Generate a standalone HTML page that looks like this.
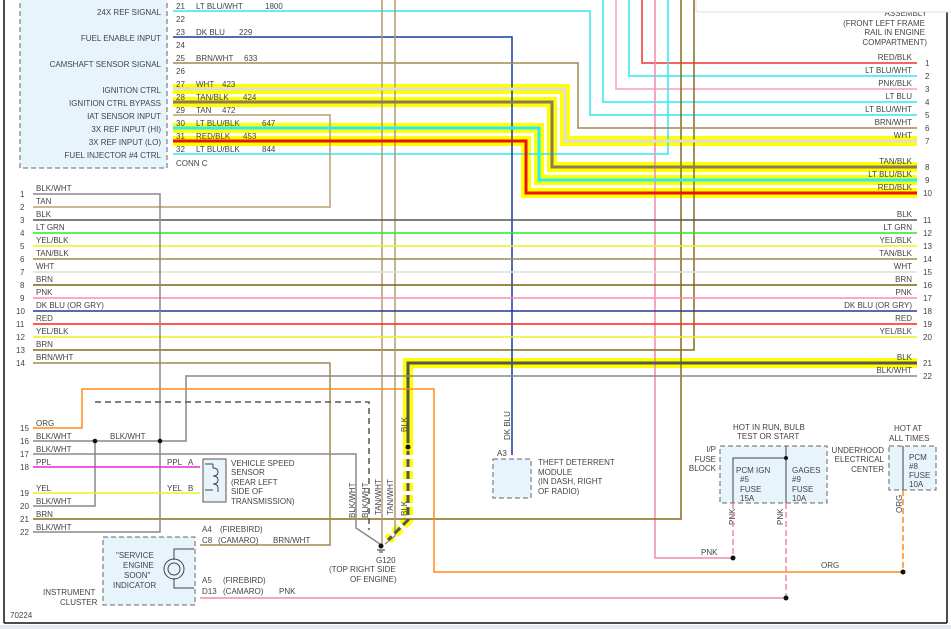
<!DOCTYPE html>
<html><head><meta charset="utf-8"><style>
html,body{margin:0;padding:0;background:#fff}
svg{display:block}
text{font-family:"Liberation Sans",sans-serif;font-size:8px;fill:#444}
.r{text-anchor:end}
</style></head><body>
<svg width="951" height="629" viewBox="0 0 951 629" xmlns="http://www.w3.org/2000/svg">
<rect width="951" height="629" fill="#fff"/>
<!-- frame -->
<line x1="4" y1="0" x2="4" y2="623" stroke="#111" stroke-width="1.5"/>
<line x1="947" y1="12" x2="947" y2="623" stroke="#111" stroke-width="1.5"/>
<line x1="4" y1="623" x2="947" y2="623" stroke="#111" stroke-width="1.5"/>
<rect x="0" y="625" width="951" height="4" fill="#e4e8ec"/>

<!-- PCM box -->
<rect x="20" y="-2" width="147" height="170" fill="#e8f4fc" stroke="#666" stroke-dasharray="5,3"/>
<g class="r">
<text x="161" y="15" class="r">24X REF SIGNAL</text>
<text x="161" y="41" class="r">FUEL ENABLE INPUT</text>
<text x="161" y="67" class="r">CAMSHAFT SENSOR SIGNAL</text>
<text x="161" y="93" class="r">IGNITION CTRL</text>
<text x="161" y="106" class="r">IGNITION CTRL BYPASS</text>
<text x="161" y="119" class="r">IAT SENSOR INPUT</text>
<text x="161" y="132" class="r">3X REF INPUT (HI)</text>
<text x="161" y="145" class="r">3X REF INPUT (LO)</text>
<text x="161" y="158" class="r">FUEL INJECTOR #4 CTRL</text>
</g>

<!-- highlighted yellows -->
<g fill="none" stroke="#ffff00" stroke-width="10" stroke-linejoin="miter">
<polyline points="173,89 565,89 565,141 917,141"/>
<polyline points="173,102 552,102 552,167 917,167"/>
<polyline points="173,128 539,128 539,180 917,180"/>
<polyline points="173,141 526,141 526,193 917,193"/>
<polyline points="917,363 408,363 408,447"/>
</g>
<polyline points="408,447 408,520 388,540" fill="none" stroke="#ffff00" stroke-width="10" stroke-dasharray="8,4"/>

<!-- verticals from top -->
<g fill="none" stroke-width="1.5">
<polyline points="173,11 590,11 590,115 917,115" stroke="#33e6f0"/>
<polyline points="603,0 603,102 917,102" stroke="#33e6f0"/>
<polyline points="616,0 616,89 917,89" stroke="#f5a0b4"/>
<polyline points="629,0 629,76 917,76" stroke="#33e6f0"/>
<polyline points="642,0 642,63 917,63" stroke="#ee3333"/>
<polyline points="173,154 668,154 668,0" stroke="#33e6f0"/>
<polyline points="655,0 655,558 733,558" stroke="#f08ca8"/>
<polyline points="681,0 681,519 33,519" stroke="#8b6a1e"/>
<polyline points="694,0 694,350 33,350" stroke="#8b6a1e"/>
<polyline points="173,37 512,37 512,455" stroke="#1a3a9a"/>
<polyline points="173,63 578,63 578,128 917,128" stroke="#a08850"/>
<polyline points="382,0 382,536 382,544" stroke="#b09a70"/>
<polyline points="395,0 395,536 385,544" stroke="#b09a70"/>
<polyline points="173,115 330,115 330,207 33,207" stroke="#b8a070"/>
</g>
<!-- highlighted inner colors -->
<g fill="none" stroke-width="3">
<polyline points="173,89 565,89 565,141 917,141" stroke="#dddddd"/>
<polyline points="173,102 552,102 552,167 917,167" stroke="#8a7a5a"/>
<polyline points="173,128 539,128 539,180 917,180" stroke="#22eeff"/>
<polyline points="173,141 526,141 526,193 917,193" stroke="#ee1111"/>
<polyline points="917,363 408,363 408,447" stroke="#555"/>
</g>
<polyline points="408,447 408,520 388,540" fill="none" stroke="#555" stroke-width="3" stroke-dasharray="8,4"/>
<circle cx="408" cy="447" r="4" fill="#ffff00"/><circle cx="408" cy="447" r="2.5" fill="#111"/>

<!-- pin labels (on top) -->
<g>
<text x="176" y="9">21</text><text x="176" y="22">22</text><text x="176" y="35">23</text><text x="176" y="48">24</text><text x="176" y="61">25</text><text x="176" y="74">26</text><text x="176" y="87">27</text><text x="176" y="100">28</text><text x="176" y="113">29</text><text x="176" y="126">30</text><text x="176" y="139">31</text><text x="176" y="152">32</text>
<text x="176" y="166">CONN C</text>
<text x="196" y="9">LT BLU/WHT</text><text x="265" y="9">1800</text>
<text x="196" y="35">DK BLU</text><text x="239" y="35">229</text>
<text x="196" y="61">BRN/WHT</text><text x="244" y="61">633</text>
<text x="196" y="87">WHT</text><text x="222" y="87">423</text>
<text x="196" y="100">TAN/BLK</text><text x="243" y="100">424</text>
<text x="196" y="113">TAN</text><text x="222" y="113">472</text>
<text x="196" y="126">LT BLU/BLK</text><text x="262" y="126">647</text>
<text x="196" y="139">RED/BLK</text><text x="243" y="139">453</text>
<text x="196" y="152">LT BLU/BLK</text><text x="262" y="152">844</text>
</g>

<!-- straight rows -->
<g stroke-width="1.5">
<line x1="33" y1="220" x2="917" y2="220" stroke="#555"/>
<line x1="33" y1="233" x2="917" y2="233" stroke="#22ee22"/>
<line x1="33" y1="246" x2="917" y2="246" stroke="#eeee22"/>
<line x1="33" y1="259" x2="917" y2="259" stroke="#a08850"/>
<line x1="33" y1="272" x2="917" y2="272" stroke="#dddddd"/>
<line x1="33" y1="285" x2="917" y2="285" stroke="#806010"/>
<line x1="33" y1="298" x2="917" y2="298" stroke="#ff8ca8"/>
<line x1="33" y1="311" x2="917" y2="311" stroke="#223a90"/>
<line x1="33" y1="324" x2="917" y2="324" stroke="#ff2222"/>
<line x1="33" y1="337" x2="917" y2="337" stroke="#eeee22"/>
</g>
<g fill="none" stroke-width="1.5">
<polyline points="33,194 160,194 160,532 33,532" stroke="#888"/>
<polyline points="33,363 330,363 330,545 200,545" stroke="#a08850"/>
<polyline points="33,441 186,441 186,376 917,376" stroke="#888"/>
<polyline points="33,454 356,454 356,528 380,544" stroke="#888"/>
<polyline points="33,506 95,506 95,441" stroke="#888"/>
<line x1="33" y1="467" x2="200" y2="467" stroke="#ee22dd"/>
<line x1="33" y1="493" x2="200" y2="493" stroke="#eeee22"/>
<polyline points="33,428 82,428 82,389 434,389 434,572 903,572" stroke="#ff8a1a"/>
<line x1="200" y1="598" x2="786" y2="598" stroke="#f08ca8"/>
<polyline points="95,402 369,402 369,530" stroke="#555" stroke-dasharray="6,4"/>
</g>
<circle cx="95" cy="441" r="2.3" fill="#111"/><circle cx="160" cy="441" r="2.3" fill="#111"/>
<circle cx="381" cy="546" r="2.5" fill="#111"/>
<line x1="377" y1="550" x2="385" y2="550" stroke="#333"/><line x1="379" y1="552" x2="383" y2="552" stroke="#333"/>

<!-- left labels -->
<g>
<text x="20" y="197">1</text><text x="20" y="210">2</text><text x="20" y="223">3</text><text x="20" y="236">4</text><text x="20" y="249">5</text><text x="20" y="262">6</text><text x="20" y="275">7</text><text x="20" y="288">8</text><text x="20" y="301">9</text><text x="16" y="314">10</text><text x="16" y="327">11</text><text x="16" y="340">12</text><text x="16" y="353">13</text><text x="16" y="366">14</text>
<text x="20" y="431">15</text><text x="20" y="444">16</text><text x="20" y="457">17</text><text x="20" y="470">18</text><text x="20" y="496">19</text><text x="20" y="509">20</text><text x="20" y="522">21</text><text x="20" y="535">22</text>
<text x="36" y="191">BLK/WHT</text><text x="36" y="204">TAN</text><text x="36" y="217">BLK</text><text x="36" y="230">LT GRN</text><text x="36" y="243">YEL/BLK</text><text x="36" y="256">TAN/BLK</text><text x="36" y="269">WHT</text><text x="36" y="282">BRN</text><text x="36" y="295">PNK</text><text x="36" y="308">DK BLU (OR GRY)</text><text x="36" y="321">RED</text><text x="36" y="334">YEL/BLK</text><text x="36" y="347">BRN</text><text x="36" y="360">BRN/WHT</text>
<text x="36" y="426">ORG</text><text x="36" y="439">BLK/WHT</text><text x="110" y="439">BLK/WHT</text><text x="36" y="452">BLK/WHT</text><text x="36" y="465">PPL</text><text x="36" y="491">YEL</text><text x="36" y="504">BLK/WHT</text><text x="36" y="517">BRN</text><text x="36" y="530">BLK/WHT</text>
<text x="167" y="465">PPL</text><text x="188" y="465">A</text><text x="167" y="491">YEL</text><text x="188" y="491">B</text>
</g>

<!-- right labels -->
<g>
<text class="r" x="912" y="60">RED/BLK</text><text class="r" x="912" y="73">LT BLU/WHT</text><text class="r" x="912" y="86">PNK/BLK</text><text class="r" x="912" y="99">LT BLU</text><text class="r" x="912" y="112">LT BLU/WHT</text><text class="r" x="912" y="125">BRN/WHT</text><text class="r" x="912" y="138">WHT</text><text class="r" x="912" y="164">TAN/BLK</text><text class="r" x="912" y="177">LT BLU/BLK</text><text class="r" x="912" y="190">RED/BLK</text>
<text class="r" x="912" y="217">BLK</text><text class="r" x="912" y="230">LT GRN</text><text class="r" x="912" y="243">YEL/BLK</text><text class="r" x="912" y="256">TAN/BLK</text><text class="r" x="912" y="269">WHT</text><text class="r" x="912" y="282">BRN</text><text class="r" x="912" y="295">PNK</text><text class="r" x="912" y="308">DK BLU (OR GRY)</text><text class="r" x="912" y="321">RED</text><text class="r" x="912" y="334">YEL/BLK</text><text class="r" x="912" y="360">BLK</text><text class="r" x="912" y="373">BLK/WHT</text>
<text x="925" y="66">1</text><text x="925" y="79">2</text><text x="925" y="92">3</text><text x="925" y="105">4</text><text x="925" y="118">5</text><text x="925" y="131">6</text><text x="925" y="144">7</text><text x="925" y="170">8</text><text x="925" y="183">9</text><text x="923" y="196">10</text>
<text x="923" y="223">11</text><text x="923" y="236">12</text><text x="923" y="249">13</text><text x="923" y="262">14</text><text x="923" y="275">15</text><text x="923" y="288">16</text><text x="923" y="301">17</text><text x="923" y="314">18</text><text x="923" y="327">19</text><text x="923" y="340">20</text><text x="923" y="366">21</text><text x="923" y="379">22</text>
<text class="r" x="927" y="16">ASSEMBLY</text><text class="r" x="925" y="26">(FRONT LEFT FRAME</text><text class="r" x="925" y="35">RAIL IN ENGINE</text><text class="r" x="927" y="45">COMPARTMENT)</text>
</g>
<rect x="696" y="-4" width="260" height="16" rx="3" fill="#fff" stroke="#ddd"/>

<!-- vehicle speed sensor -->
<rect x="203" y="459" width="23" height="43" fill="#e8f4fc" stroke="#555"/>
<path d="M205,464 h8 M205,490 h8 M213,464 v4 q5,0 5,4 q0,4 -5,4 q5,0 5,4 q0,4 -5,4 q5,0 5,4 v2 v2" fill="none" stroke="#444"/>
<text x="231" y="466">VEHICLE SPEED</text><text x="231" y="475">SENSOR</text><text x="231" y="485">(REAR LEFT</text><text x="231" y="494">SIDE OF</text><text x="231" y="504">TRANSMISSION)</text>

<!-- vertical labels -->
<g>
<text transform="translate(355,518) rotate(-90)">BLK/WHT</text>
<text transform="translate(368,518) rotate(-90)">BLK/WHT</text>
<text transform="translate(381,515) rotate(-90)">TAN/WHT</text>
<text transform="translate(393,515) rotate(-90)">TAN/WHT</text>
<text transform="translate(407,432) rotate(-90)">BLK</text>
<text transform="translate(407,516) rotate(-90)">BLK</text>
<text transform="translate(510,440) rotate(-90)">DK BLU</text>
<text transform="translate(735,525) rotate(-90)">PNK</text>
<text transform="translate(783,525) rotate(-90)">PNK</text>
<text transform="translate(902,513) rotate(-90)">ORG</text>
</g>
<text x="376" y="563">G120</text>
<text x="329" y="572">(TOP RIGHT SIDE</text><text x="350" y="582">OF ENGINE)</text>

<!-- instrument cluster -->
<rect x="103" y="537" width="92" height="68" fill="#e8f4fc" stroke="#666" stroke-dasharray="5,3"/>
<circle cx="174" cy="569" r="10" fill="none" stroke="#444"/>
<circle cx="174" cy="569" r="6" fill="none" stroke="#444"/>
<path d="M174,560 v-11 h20 M174,578 v10 h20" fill="none" stroke="#444"/>
<text x="116" y="558">"SERVICE</text><text x="123" y="568">ENGINE</text><text x="124" y="578">SOON"</text><text x="113" y="588">INDICATOR</text>
<text x="43" y="595">INSTRUMENT</text><text x="60" y="605">CLUSTER</text>
<text x="202" y="532">A4</text><text x="220" y="532">(FIREBIRD)</text><text x="202" y="543">C8</text><text x="218" y="543">(CAMARO)</text><text x="273" y="543">BRN/WHT</text>
<text x="202" y="583">A5</text><text x="223" y="583">(FIREBIRD)</text><text x="202" y="594">D13</text><text x="223" y="594">(CAMARO)</text><text x="279" y="594">PNK</text>
<text x="10" y="618">70224</text>

<!-- theft module -->
<rect x="493" y="459" width="38" height="39" fill="#e8f4fc" stroke="#666" stroke-dasharray="5,3"/>
<text x="497" y="456">A3</text>
<text x="538" y="465">THEFT DETERRENT</text><text x="538" y="475">MODULE</text><text x="538" y="484">(IN DASH, RIGHT</text><text x="538" y="494">OF RADIO)</text>

<!-- fuse blocks -->
<rect x="720" y="446" width="107" height="57" fill="#e8f4fc" stroke="#666" stroke-dasharray="5,3"/>
<rect x="889" y="446" width="47" height="44" fill="#e8f4fc" stroke="#666" stroke-dasharray="5,3"/>
<g fill="none" stroke="#444">
<polyline points="786,446 786,503"/>
<polyline points="733,503 733,458 786,458"/>
<polyline points="903,446 903,490"/>
</g>
<g fill="none" stroke-width="1.5" stroke-dasharray="6,3">
<line x1="733" y1="503" x2="733" y2="558" stroke="#f08ca8"/>
<line x1="786" y1="503" x2="786" y2="598" stroke="#f08ca8"/>
<line x1="903" y1="490" x2="903" y2="572" stroke="#ff8a1a"/>
</g>
<circle cx="786" cy="458" r="2" fill="#111"/>
<circle cx="733" cy="558" r="2.5" fill="#111"/><circle cx="786" cy="598" r="2.5" fill="#111"/><circle cx="903" cy="572" r="2.5" fill="#111"/>
<text x="736" y="473">PCM IGN</text><text x="740" y="482">#5</text><text x="740" y="492">FUSE</text><text x="740" y="501">15A</text>
<text x="792" y="473">GAGES</text><text x="792" y="482">#9</text><text x="792" y="492">FUSE</text><text x="792" y="501">10A</text>
<text x="909" y="460">PCM</text><text x="909" y="469">#8</text><text x="909" y="478">FUSE</text><text x="909" y="487">10A</text>
<text x="733" y="430">HOT IN RUN, BULB</text><text x="737" y="439">TEST OR START</text>
<text class="r" x="716" y="452">I/P</text><text class="r" x="716" y="462">FUSE</text><text class="r" x="716" y="471">BLOCK</text>
<text class="r" x="884" y="453">UNDERHOOD</text><text class="r" x="884" y="462">ELECTRICAL</text><text class="r" x="884" y="472">CENTER</text>
<text x="894" y="431">HOT AT</text><text x="889" y="441">ALL TIMES</text>
<text x="701" y="555">PNK</text><text x="821" y="568">ORG</text>
</svg>
</body></html>
